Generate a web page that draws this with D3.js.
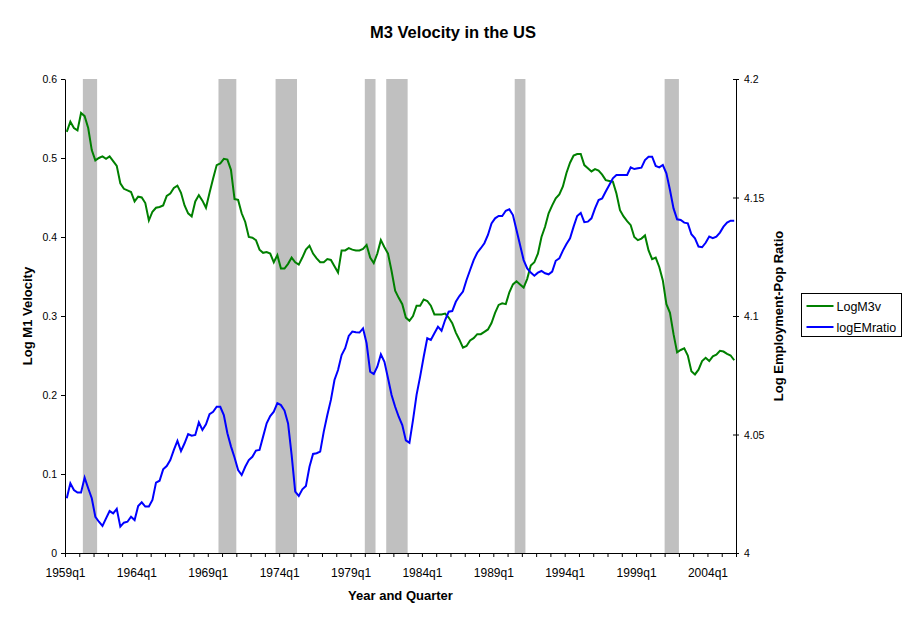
<!DOCTYPE html>
<html>
<head>
<meta charset="utf-8">
<script src="https://cdn.jsdelivr.net/npm/d3@7"></script>
<style>
  body { margin: 0; background: #fff; }
  svg { font-family: Arial, "Liberation Sans", sans-serif; }
</style>
</head>
<body>
<svg id="chart" width="911" height="623"></svg>
<script>
// quarterly categories 1959q1 .. 2005q4
const firstYear = 1959;
const lastYear = 2005;
const quarters = [];
for (let y = firstYear; y <= lastYear; y++) {
    for (let q = 1; q <= 4; q++) quarters.push(y + 'q' + q);
}

const xTickLabels = ['1959q1', '1964q1', '1969q1', '1974q1', '1979q1', '1984q1', '1989q1', '1994q1', '1999q1', '2004q1'];
const leftTicks = [0, 0.1, 0.2, 0.3, 0.4, 0.5, 0.6];
const leftTickLabels = ['0', '0.1', '0.2', '0.3', '0.4', '0.5', '0.6'];
const rightTicks = [4, 4.05, 4.1, 4.15, 4.2];
const rightTickLabels = ['4', '4.05', '4.1', '4.15', '4.2'];

// recessions, first and last quarter
const recessions = [
    ['1960q2', '1961q1'], ['1969q4', '1970q4'], ['1973q4', '1975q1'], ['1980q1', '1980q3'],
    ['1981q3', '1982q4'], ['1990q3', '1991q1'], ['2001q1', '2001q4']
];

const logM3v = [
    0.533, 0.546, 0.538, 0.535, 0.557, 0.553, 0.538, 0.510, 0.497, 0.500,
    0.502, 0.499, 0.502, 0.496, 0.490, 0.468, 0.461, 0.459, 0.457, 0.445,
    0.451, 0.450, 0.443, 0.421, 0.432, 0.437, 0.438, 0.440, 0.452, 0.455,
    0.462, 0.465, 0.456, 0.440, 0.430, 0.426, 0.445, 0.453, 0.446, 0.437,
    0.456, 0.474, 0.491, 0.493, 0.499, 0.498, 0.485, 0.448, 0.447, 0.430,
    0.419, 0.400, 0.399, 0.396, 0.384, 0.380, 0.381, 0.379, 0.368, 0.377,
    0.360, 0.360, 0.366, 0.374, 0.368, 0.365, 0.374, 0.384, 0.389, 0.379,
    0.373, 0.368, 0.368, 0.372, 0.371, 0.363, 0.355, 0.383, 0.383, 0.386,
    0.384, 0.383, 0.383, 0.385, 0.390, 0.374, 0.367, 0.379, 0.396, 0.387,
    0.379, 0.357, 0.332, 0.323, 0.315, 0.298, 0.294, 0.300, 0.313, 0.313,
    0.321, 0.319, 0.313, 0.302, 0.302, 0.302, 0.303, 0.298, 0.291, 0.279,
    0.270, 0.260, 0.262, 0.269, 0.272, 0.277, 0.277, 0.280, 0.283, 0.291,
    0.304, 0.314, 0.316, 0.315, 0.330, 0.340, 0.344, 0.340, 0.336, 0.347,
    0.364, 0.368, 0.379, 0.400, 0.413, 0.430, 0.440, 0.449, 0.454, 0.464,
    0.481, 0.494, 0.503, 0.505, 0.505, 0.491, 0.487, 0.483, 0.486, 0.484,
    0.479, 0.472, 0.471, 0.470, 0.455, 0.434, 0.426, 0.420, 0.415, 0.400,
    0.396, 0.398, 0.402, 0.383, 0.372, 0.374, 0.362, 0.345, 0.315, 0.304,
    0.277, 0.254, 0.257, 0.259, 0.250, 0.230, 0.226, 0.232, 0.243, 0.247,
    0.243, 0.249, 0.251, 0.256, 0.255, 0.252, 0.250, 0.244
];

const logEMratio = [
    4.0231, 4.0294, 4.0266, 4.0255, 4.0255, 4.0318, 4.0273, 4.0231, 4.0153, 4.0132,
    4.0114, 4.0146, 4.0177, 4.0167, 4.0186, 4.0111, 4.0128, 4.0132, 4.0153, 4.0139,
    4.0198, 4.0214, 4.0196, 4.0196, 4.0224, 4.0297, 4.0305, 4.0353, 4.0367, 4.0392,
    4.0435, 4.0473, 4.0430, 4.0463, 4.0502, 4.0495, 4.0498, 4.0551, 4.0519, 4.0543,
    4.0586, 4.0596, 4.0617, 4.0617, 4.0582, 4.0505, 4.0450, 4.0403, 4.0350, 4.0329,
    4.0364, 4.0392, 4.0406, 4.0432, 4.0435, 4.0491, 4.0547, 4.0578, 4.0596, 4.0632,
    4.0624, 4.0601, 4.0547, 4.0413, 4.0259, 4.0241, 4.0269, 4.0283, 4.0364, 4.0418,
    4.0421, 4.0428, 4.0512, 4.0582, 4.0646, 4.0730, 4.0772, 4.0835, 4.0864, 4.0916,
    4.0934, 4.0931, 4.0930, 4.0948, 4.0885, 4.0765, 4.0755, 4.0786, 4.0838, 4.0807,
    4.0737, 4.0667, 4.0617, 4.0575, 4.0540, 4.0475, 4.0465, 4.0561, 4.0667, 4.0744,
    4.0828, 4.0906, 4.0899, 4.0927, 4.0955, 4.0938, 4.0983, 4.1018, 4.1021, 4.1060,
    4.1084, 4.1103, 4.1152, 4.1194, 4.1236, 4.1267, 4.1286, 4.1307, 4.1342, 4.1391,
    4.1412, 4.1422, 4.1422, 4.1444, 4.1450, 4.1426, 4.1363, 4.1300, 4.1236, 4.1201,
    4.1183, 4.1170, 4.1183, 4.1190, 4.1180, 4.1176, 4.1187, 4.1233, 4.1243, 4.1276,
    4.1304, 4.1328, 4.1377, 4.1422, 4.1435, 4.1396, 4.1398, 4.1412, 4.1454, 4.1489,
    4.1496, 4.1525, 4.1553, 4.1581, 4.1595, 4.1595, 4.1595, 4.1595, 4.1627, 4.1620,
    4.1623, 4.1626, 4.1658, 4.1672, 4.1672, 4.1633, 4.1627, 4.1637, 4.1602, 4.1532,
    4.1454, 4.1408, 4.1405, 4.1394, 4.1391, 4.1345, 4.1328, 4.1293, 4.1290, 4.1309,
    4.1335, 4.1328, 4.1335, 4.1352, 4.1377, 4.1394, 4.1402, 4.1402
];

const seriesNames = ['LogM3v', 'logEMratio'];
const seriesColors = ['#008000', '#0000ff'];

const svg = d3.select('#chart');
const margin = {top: 79, left: 65, right: 175, bottom: 70};
const width = +svg.attr('width');
const height = +svg.attr('height');
const innerWidth = width - margin.left - margin.right;
const innerHeight = height - margin.top - margin.bottom;

const xScale = d3.scaleLinear().domain([0, quarters.length]).range([0, innerWidth]);
const yLeft = d3.scaleLinear().domain([0, 0.6]).range([innerHeight, 0]);
const yRight = d3.scaleLinear().domain([4, 4.2]).range([innerHeight, 0]);

const g = svg.append('g').attr('transform', 'translate(' + margin.left + ',' + margin.top + ')');

// recession shading
g.selectAll('rect.rec')
    .data(recessions)
    .enter()
    .append('rect')
    .attr('class', 'rec')
    .attr('x', d => xScale(quarters.indexOf(d[0])))
    .attr('width', d => xScale(quarters.indexOf(d[1]) + 1) - xScale(quarters.indexOf(d[0])))
    .attr('y', 0)
    .attr('height', innerHeight)
    .attr('fill', '#c0c0c0');

// axes
const xAxis = d3.axisBottom(xScale)
    .tickValues(d3.range(0, quarters.length + 1, 4))
    .tickSize(4)
    .tickSizeOuter(0)
    .tickFormat(i => xTickLabels.includes(quarters[i]) ? quarters[i] : '');

const leftAxis = d3.axisLeft(yLeft)
    .tickValues(leftTicks)
    .tickSize(4)
    .tickSizeOuter(0)
    .tickPadding(4)
    .tickFormat((d, i) => leftTickLabels[i]);

const rightAxis = d3.axisRight(yRight)
    .tickValues(rightTicks)
    .tickSize(3)
    .tickSizeOuter(0)
    .tickPadding(5)
    .tickFormat((d, i) => rightTickLabels[i]);

const styleAxis = sel => {
    sel.attr('font-family', null).attr('font-size', null);
    sel.select('.domain').attr('stroke', '#000').attr('stroke-width', 1);
    sel.selectAll('.tick line').attr('stroke', '#000');
    sel.selectAll('.tick text').attr('fill', '#000').attr('dy', null);
};

g.append('g').attr('transform', 'translate(0,' + innerHeight + ')').call(xAxis)
    .call(styleAxis)
    .call(s => s.selectAll('.tick text').filter(function () { return this.textContent === ''; }).remove())
    .call(s => s.selectAll('.tick text').attr('y', 24).attr('font-size', 12));

g.append('g').call(leftAxis)
    .call(styleAxis)
    .call(s => s.selectAll('.tick text').attr('y', 3.7).attr('font-size', 10.5));

g.append('g').attr('transform', 'translate(' + innerWidth + ',0)').call(rightAxis)
    .call(styleAxis)
    .call(s => s.selectAll('.tick line').attr('x1', -3))
    .call(s => s.selectAll('.tick text').attr('y', 3.7).attr('font-size', 10.5));

// lines
const lineLeft = d3.line().x((d, i) => xScale(i + 0.5)).y(d => yLeft(d));
const lineRight = d3.line().x((d, i) => xScale(i + 0.5)).y(d => yRight(d));

g.append('path').datum(logM3v)
    .attr('d', lineLeft)
    .attr('fill', 'none')
    .attr('stroke', seriesColors[0])
    .attr('stroke-width', 2);

g.append('path').datum(logEMratio)
    .attr('d', lineRight)
    .attr('fill', 'none')
    .attr('stroke', seriesColors[1])
    .attr('stroke-width', 2);

// titles
svg.append('text')
    .attr('x', 453).attr('y', 38)
    .attr('text-anchor', 'middle')
    .attr('font-size', 16.5).attr('font-weight', 'bold')
    .text('M3 Velocity in the US');

svg.append('text')
    .attr('x', margin.left + innerWidth / 2).attr('y', 600)
    .attr('text-anchor', 'middle')
    .attr('font-size', 13).attr('font-weight', 'bold')
    .text('Year and Quarter');

svg.append('text')
    .attr('transform', 'translate(32,' + (margin.top + innerHeight / 2) + ') rotate(-90)')
    .attr('text-anchor', 'middle')
    .attr('font-size', 13).attr('font-weight', 'bold')
    .text('Log M1 Velocity');

svg.append('text')
    .attr('transform', 'translate(783,' + (margin.top + innerHeight / 2) + ') rotate(-90)')
    .attr('text-anchor', 'middle')
    .attr('font-size', 13).attr('font-weight', 'bold')
    .text('Log Employment-Pop Ratio');

// legend
const legend = svg.append('g').attr('transform', 'translate(801.5,293.5)');
legend.append('rect')
    .attr('width', 100).attr('height', 43)
    .attr('fill', '#fff').attr('stroke', '#000');

seriesNames.forEach((name, i) => {
    const ly = 12.5 + i * 21;
    legend.append('line')
        .attr('x1', 5).attr('x2', 32).attr('y1', ly).attr('y2', ly)
        .attr('stroke', seriesColors[i]).attr('stroke-width', 2);
    legend.append('text')
        .attr('x', 35).attr('y', ly + 4.5)
        .attr('font-size', 12.5)
        .text(name);
});
</script>
</body>
</html>
